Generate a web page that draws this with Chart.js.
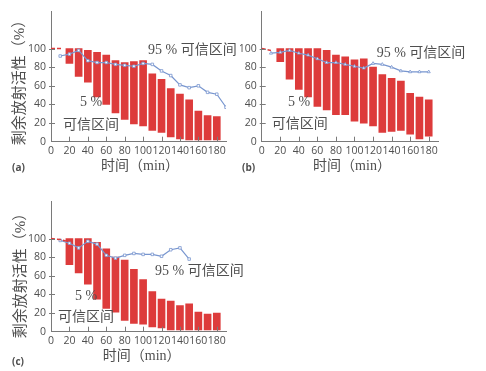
<!DOCTYPE html>
<html><head><meta charset="utf-8">
<script src="https://cdn.jsdelivr.net/npm/chart.js@4.4.1/dist/chart.umd.min.js"></script>
<style>
html,body{margin:0;padding:0;background:#fff;}
body{width:486px;height:371px;position:relative;overflow:hidden;}
canvas{position:absolute;}
</style></head><body>
<canvas id="ca" style="left:0;top:0;width:240px;height:180px" width="240" height="180"></canvas>
<canvas id="cb" style="left:240px;top:0;width:246px;height:180px" width="246" height="180"></canvas>
<canvas id="cc" style="left:0;top:190px;width:260px;height:181px" width="260" height="181"></canvas>
<script>
// ---- data ----
const barTimes = [20,30,40,50,60,70,80,90,100,110,120,130,140,150,160,170,180];
const xTickLabels = [0,20,40,60,80,100,120,140,160,180];
const yTickLabels = [0,20,40,60,80,100];

const aLow  = [84,70,64,48,40,31,24,19,17,12,10,5,3,2,2,2,2];
const aHigh = [100,100,98,96,93,87,85,86,87,73,67,57,51,45,33,28,27];
const aLineTimes = [10,20,30,40,50,60,70,80,90,100,110,120,130,140,150,160,170,180,190];
const aMid = [92,94,98,87,85,85,83,82,81,84,83,76,71,61,58,60,53,51,37];
const aRefTimes = [0,12];
const aRef = [100,100];

const bLow  = [86,67,56,48,38,34,29,29,22,20,17,10,11,12,8,3,6];
const bHigh = [100,100,100,100,100,98,93,91,88,89,80,72,68,65,52,48,45];
const bLineTimes = [10,20,30,40,50,60,70,80,90,100,110,120,130,140,150,160,170,180];
const bMid = [95,96,98,95,93,89,85,85,83,81,79,84,83,80,76,75,75,75];
const bRefTimes = [0,10];
const bRef = [100,98];

const cLow  = [72,63,51,35,25,21,12,9,8,5,4,2,2,2,2,2,2];
const cHigh = [100,100,100,96,89,80,77,67,56,43,35,33,28,30,21,19,20];
const cLineTimes = [10,20,30,40,50,60,70,80,90,100,110,120,130,140,150];
const cMid = [98,95,90,97,94,82,79,82,84,83,83,81,88,90,78];
const cRefTimes = [0,10,18];
const cRef = [100,99,97];

// ---- styles ----
const RED = '#dd3b3b';
const BLUE = '#7896cf';
const AXIS = '#7a7a7a';
const TXT = '#4f4f4f';
const TICKFONT = {family:'"Open Sans", sans-serif', size:10.5};
const ANNFONT = '14px "Liberation Serif", "Noto Sans CJK SC", serif';
const TITLEFONT = '14px "Liberation Serif", "Noto Sans CJK SC", serif';
const YTITLEFONT = '15px "Liberation Serif", "Noto Sans CJK SC", serif';

const deco = {
  id:'deco',
  afterDraw(chart, args, o){
    const ctx = chart.ctx, xs = chart.scales.x, ys = chart.scales.y;
    ctx.save();
    ctx.strokeStyle = AXIS; ctx.lineWidth = 1;
    ctx.beginPath();
    xTickLabels.slice(1).forEach(v=>{
      const px = Math.round(xs.getPixelForValue(v))+0.5;
      ctx.moveTo(px, ys.bottom); ctx.lineTo(px, ys.bottom-5);
    });
    yTickLabels.slice(1).forEach(v=>{
      const py = Math.round(ys.getPixelForValue(v))+0.5;
      ctx.moveTo(xs.left-2, py); ctx.lineTo(xs.left+4, py);
    });
    ctx.stroke();
    ctx.fillStyle = TXT;
    ctx.textBaseline = 'middle';
    (o.texts||[]).forEach(t=>{
      ctx.font = t.font || ANNFONT;
      ctx.textAlign = t.align || 'left';
      ctx.fillText(t.text, t.x, t.y);
    });
    if (o.ytitle){
      ctx.save();
      ctx.translate(o.ytitle.x, o.ytitle.y);
      ctx.rotate(-Math.PI/2);
      ctx.font = YTITLEFONT; ctx.textAlign='center';
      ctx.fillText('剩余放射活性（%）', 0, 0);
      ctx.restore();
    }
    ctx.font = TITLEFONT; ctx.textAlign='center';
    ctx.fillText('时间（min）', o.xtitle.x, o.xtitle.y);
    ctx.font = 'bold 10px "Open Sans", sans-serif'; ctx.textAlign='left';
    ctx.fillText(o.panel.text, o.panel.x, o.panel.y);
    ctx.restore();
  }
};

function make(id, low, high, lineT, mid, pointStyle, refT, ref, cfg){
  const bars = barTimes.map((t,i)=>({x:t, y:[low[i], high[i]]}));
  const line = lineT.map((t,i)=>({x:t, y:mid[i]}));
  const refLine = refT.map((t,i)=>({x:t, y:ref[i]}));
  new Chart(document.getElementById(id), {
    type:'bar',
    data:{datasets:[
      {type:'line', data:refLine, borderColor:RED, borderWidth:1.5, borderDash:[4,2], pointRadius:0, order:0},
      {type:'line', data:line, borderColor:BLUE, borderWidth:1.2, pointStyle:pointStyle, pointRadius:1.8,
        pointBackgroundColor:'#fff', pointBorderColor:BLUE, pointBorderWidth:0.8, tension:0, order:1},
      {type:'bar', data:bars, backgroundColor:RED, borderWidth:0, barThickness:7, order:2}
    ]},
    options:{
      responsive:false, animation:false, devicePixelRatio:1,
      layout:{padding:cfg.pad},
      plugins:{legend:{display:false}, tooltip:{enabled:false}, deco:cfg.deco},
      scales:{
        x:{type:'linear', min:0, max:190, offset:false,
          afterBuildTicks:s=>{s.ticks = xTickLabels.map(v=>({value:v}));},
          afterFit:s=>{s.height = cfg.xh;},
          grid:{display:false, drawTicks:false, offset:false}, border:{color:AXIS, width:1},
          ticks:{font:TICKFONT, color:TXT, padding:3, autoSkip:false, maxRotation:0, minRotation:0}},
        y:{type:'linear', min:0, max:140,
          afterBuildTicks:s=>{s.ticks = yTickLabels.map(v=>({value:v}));},
          afterFit:s=>{s.width = cfg.yw;},
          grid:{display:false, drawTicks:false}, border:{color:AXIS, width:1},
          ticks:{font:TICKFONT, color:TXT, padding:5}}
      }
    },
    plugins:[deco]
  });
}

make('ca', aLow, aHigh, aLineTimes, aMid, 'rect', aRefTimes, aRef, {
  pad:{left:0, right:14, top:10, bottom:0}, xh:38.3, yw:51,
  deco:{texts:[
    {text:'95 % 可信区间', x:148, y:50},
    {text:'5 %', x:80, y:102},
    {text:'可信区间', x:63, y:125}],
    ytitle:{x:20, y:79}, xtitle:{x:140, y:166}, panel:{text:'(a)', x:12, y:168.5}}
});
make('cb', bLow, bHigh, bLineTimes, bMid, 'triangle', bRefTimes, bRef, {
  pad:{left:0, right:48, top:10, bottom:0}, xh:38.3, yw:21.7,
  deco:{texts:[
    {text:'95 % 可信区间', x:136.7, y:53},
    {text:'5 %', x:48, y:102},
    {text:'可信区间', x:31.7, y:124}],
    xtitle:{x:112, y:166}, panel:{text:'(b)', x:2, y:168}}
});
make('cc', cLow, cHigh, cLineTimes, cMid, 'rect', cRefTimes, cRef, {
  pad:{left:0, right:34, top:10, bottom:0}, xh:39.3, yw:51,
  deco:{texts:[
    {text:'95 % 可信区间', x:155, y:81.7},
    {text:'5 %', x:75, y:106.7},
    {text:'可信区间', x:58, y:127}],
    ytitle:{x:21, y:82}, xtitle:{x:141.7, y:166.7}, panel:{text:'(c)', x:12, y:171.7}}
});
</script>
</body></html>
